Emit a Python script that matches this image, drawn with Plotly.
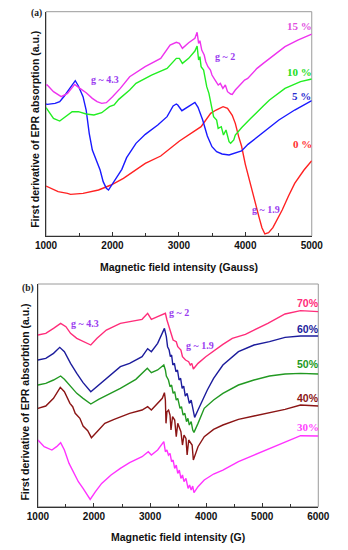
import plotly.graph_objects as go

# ---------------- Panel (a) data : field (Gauss) vs arbitrary intensity ----------------
a0_x = [1000, 1182, 1323, 1369, 1557, 1790, 1978, 2165, 2494, 2726, 3009, 3334, 3478, 3560, 3665, 3732,
        3803, 3849, 3900, 3943, 4000, 4060, 4130, 4204, 4250, 4294, 4350, 4415, 4480, 4555, 4650, 4743,
        4883, 5000]
a0_y = [150, 133, 128, 125, 128, 138, 153, 173, 218, 240, 285, 328, 368, 378, 388, 383,
        362, 338, 298, 270, 215, 165, 115, 58, 25, 6, 10, 25, 48, 78, 120, 158,
        198, 226]

a5_x = [1000, 1018, 1136, 1206, 1276, 1369, 1440, 1487, 1557, 1604, 1650, 1697, 1768, 1814, 1860, 1908,
        1940, 1987, 2048, 2141, 2213, 2354, 2494, 2682, 2822, 2913, 2961, 2983, 3045, 3127, 3241, 3288,
        3358, 3428, 3498, 3568, 3650, 3755, 3850, 3943, 4040, 4227, 4317, 4505, 4743, 5000]
a5_y = [396, 395, 398, 403, 420, 448, 466, 450, 418, 378, 308, 258, 223, 198, 163, 143,
        138, 153, 173, 200, 235, 278, 305, 333, 358, 390, 396, 393, 376, 386, 401, 386,
        348, 300, 268, 253, 246, 243, 248, 255, 275, 305, 320, 348, 378, 406]

a10_x = [1000, 1018, 1112, 1206, 1299, 1393, 1487, 1604, 1721, 1838, 1955, 2025, 2095, 2259, 2354, 2588,
         2822, 2961, 3007, 3053, 3147, 3241, 3274, 3297, 3316, 3334, 3372, 3391, 3419, 3452, 3475, 3522,
         3568, 3591, 3638, 3671, 3709, 3755, 3779, 3826, 3849, 3943, 4083, 4130, 4270, 4364, 4597, 4831,
         5000]
a10_y = [385, 380, 353, 345, 358, 373, 373, 366, 363, 370, 388, 393, 410, 438, 458, 483,
         503, 533, 533, 518, 533, 555, 570, 528, 538, 508, 498, 473, 448, 428, 403, 358,
         348, 323, 328, 303, 318, 283, 278, 288, 303, 325, 353, 363, 390, 408, 443, 463,
         471]

a15_x = [1000, 1018, 1112, 1229, 1323, 1431, 1510, 1604, 1697, 1768, 1838, 1908, 2001, 2118, 2259, 2492,
         2726, 2867, 2961, 3007, 3053, 3147, 3241, 3274, 3297, 3316, 3344, 3381, 3404, 3437, 3475, 3498,
         3545, 3592, 3624, 3662, 3699, 3732, 3779, 3803, 3849, 3989, 4036, 4176, 4270, 4597, 4790, 5000]
a15_y = [453, 453, 433, 418, 428, 455, 443, 430, 413, 403, 398, 400, 418, 443, 478, 508,
         533, 573, 581, 578, 563, 580, 593, 611, 578, 586, 558, 543, 523, 508, 498, 483,
         468, 453, 458, 443, 453, 433, 426, 425, 438, 468, 473, 503, 518, 568, 588, 606]

# ---------------- Panel (b) data ----------------
b70_x = [1000, 1140, 1278, 1405, 1499, 1582, 1693, 1805, 1943, 2054, 2220, 2470, 2635, 2857, 2957, 3023,
         3134, 3256, 3273, 3301, 3329, 3356, 3411, 3467, 3494, 3550, 3578, 3633, 3688, 3717, 3744, 3772,
         3855, 3993, 4188, 4299, 4466, 4700, 4853, 5100, 5407, 5684, 6000]
b70_y = [515, 520, 535, 550, 540, 520, 505, 495, 485, 505, 530, 550, 555, 562, 580, 562,
         570, 578, 580, 560, 545, 530, 500, 495, 480, 470, 450, 440, 435, 425, 430, 413,
         430, 450, 475, 487, 505, 517, 530, 550, 578, 588, 585]

b60_x = [1000, 1140, 1278, 1389, 1472, 1582, 1693, 1805, 1943, 2082, 2247, 2470, 2635, 2857, 2957, 3023,
         3135, 3218, 3256, 3290, 3312, 3340, 3362, 3384, 3406, 3434, 3461, 3489, 3517, 3545, 3572, 3600,
         3628, 3661, 3700, 3733, 3772, 3795, 3855, 3966, 4021, 4133, 4299, 4576, 4853, 5130, 5407, 5684,
         6000]
b60_y = [440, 445, 460, 478, 465, 430, 400, 372, 345, 365, 390, 420, 430, 450, 474, 465,
         490, 520, 535, 510, 480, 470, 450, 455, 425, 430, 405, 410, 380, 385, 355, 362,
         332, 340, 310, 320, 285, 268, 290, 330, 350, 385, 425, 465, 485, 495, 508, 512,
         512]

b50_x = [1000, 1140, 1278, 1405, 1472, 1582, 1693, 1805, 1943, 2082, 2304, 2470, 2746, 2951, 3023, 3135,
         3245, 3273, 3290, 3312, 3328, 3356, 3384, 3411, 3439, 3467, 3494, 3534, 3560, 3589, 3620, 3650,
         3675, 3700, 3733, 3761, 3783, 3855, 3966, 4133, 4299, 4576, 4853, 5130, 5407, 5684, 6000]
b50_y = [365, 370, 380, 392, 382, 360, 340, 325, 308, 322, 340, 355, 382, 415, 402, 410,
         425, 410, 392, 385, 380, 360, 365, 340, 345, 320, 325, 295, 300, 275, 280, 255,
         265, 245, 255, 230, 223, 250, 295, 320, 340, 365, 380, 392, 398, 400, 398]

b40_x = [1000, 1140, 1278, 1399, 1472, 1527, 1571, 1620, 1665, 1748, 1805, 1888, 1954, 2054, 2193, 2359,
         2635, 2857, 2957, 3023, 3135, 3218, 3256, 3273, 3284, 3301, 3330, 3356, 3373, 3401, 3439, 3467,
         3494, 3520, 3550, 3578, 3605, 3640, 3661, 3689, 3720, 3750, 3772, 3855, 3966, 4133, 4299, 4576,
         4853, 5130, 5407, 5684, 6000]
b40_y = [295, 302, 325, 358, 345, 325, 310, 300, 280, 265, 242, 228, 207, 225, 250, 262,
         280, 290, 300, 290, 310, 325, 342, 320, 250, 285, 290, 275, 230, 270, 260, 210,
         250, 240, 225, 185, 215, 205, 155, 200, 190, 185, 140, 180, 210, 232, 245, 262,
         272, 282, 292, 305, 302]

b30_x = [1000, 1111, 1249, 1333, 1405, 1472, 1555, 1638, 1721, 1805, 1888, 1932, 2026, 2137, 2304, 2470,
         2635, 2857, 2968, 3023, 3135, 3245, 3273, 3300, 3328, 3356, 3384, 3411, 3439, 3467, 3494, 3522,
         3550, 3578, 3605, 3640, 3678, 3705, 3733, 3760, 3783, 3855, 3966, 4133, 4299, 4576, 4853, 5130,
         5407, 5684, 6000]
b30_y = [200, 180, 170, 180, 192, 170, 130, 100, 75, 55, 35, 22, 45, 70, 95, 115,
         132, 150, 165, 155, 170, 195, 165, 170, 155, 160, 135, 140, 115, 125, 100, 110,
         85, 95, 75, 85, 55, 65, 50, 62, 42, 60, 80, 98, 110, 135, 155, 175,
         195, 213, 212]

ticks_a = [1000, 2000, 3000, 4000, 5000]
ticks_b = [1000, 2000, 3000, 4000, 5000, 6000]

# The page body keeps its default 8px margin, so the figure is laid out in a
# 340x542 box that starts 8px in from the window's top-left corner.
OFF = 8
W, H = 348 - OFF, 550 - OFF
def px(x): return (x - OFF) / W
def py(y): return 1 - (y - OFF) / H

XD_A = [px(37), px(322)]
YD_A = [py(236), py(11.7)]
XD_B = [px(28.3), px(329)]
YD_B = [py(506.7), py(284)]

SANS = "Liberation Sans"
SERIF = "Liberation Serif"

fig = go.Figure()
LW = 1.4
for xs, ys, c in [(a0_x, a0_y, "#ff2222"), (a5_x, a5_y, "#1a1aff"),
                  (a10_x, a10_y, "#22ee22"), (a15_x, a15_y, "#ee33ee")]:
    fig.add_trace(go.Scatter(x=xs, y=ys, mode="lines", line=dict(color=c, width=LW),
                             xaxis="x", yaxis="y", showlegend=False, hoverinfo="skip"))
for xs, ys, c in [(b70_x, b70_y, "#ff2d7a"), (b60_x, b60_y, "#1c1c9c"),
                  (b50_x, b50_y, "#229922"), (b40_x, b40_y, "#8b1515"),
                  (b30_x, b30_y, "#ff33ff")]:
    fig.add_trace(go.Scatter(x=xs, y=ys, mode="lines", line=dict(color=c, width=LW),
                             xaxis="x2", yaxis="y2", showlegend=False, hoverinfo="skip"))

tickfont = dict(family=SANS, size=10, color="#111", weight="bold")
common_x = dict(showgrid=False, zeroline=False, showline=True, linecolor="#333", linewidth=1,
                ticks="inside", ticklen=4, tickcolor="#333", tickfont=tickfont,
                minor=dict(ticks="inside", ticklen=3, dtick=500, tickcolor="#333"))
common_y = dict(showgrid=False, zeroline=False, showline=True, linecolor="#333", linewidth=1,
                showticklabels=False, ticks="")

fig.update_layout(
    width=W, height=H, margin=dict(l=0, r=0, t=0, b=0),
    paper_bgcolor="white", plot_bgcolor="white",
    xaxis=dict(domain=XD_A, range=[1000, 5000], tickvals=ticks_a, anchor="y", **common_x),
    yaxis=dict(domain=YD_A, range=[0, 673], anchor="x", **common_y),
    xaxis2=dict(domain=XD_B, range=[1000, 6000], tickvals=ticks_b, anchor="y2", **common_x),
    yaxis2=dict(domain=YD_B, range=[0, 668], anchor="x2", **common_y),
)

# grey frame (top / right sides)
for xd, yd in [(XD_A, YD_A), (XD_B, YD_B)]:
    fig.add_shape(type="rect", xref="paper", yref="paper", x0=xd[0], x1=xd[1], y0=yd[0], y1=yd[1],
                  line=dict(color="#9a9a9a", width=1), layer="below")

ann = []
def lab(text, x, y, color, xr, yr, family=SERIF, size=11):
    ann.append(dict(text=text, x=x, y=y, xref=xr, yref=yr, showarrow=False,
                    xanchor="center", yanchor="middle",
                    font=dict(family=family, size=size, color=color, weight="bold")))

G = "#9b3cf0"
lab("15 %", 4808, 630, "#e050e0", "x", "y")
lab("10 %", 4808, 493, "#22dd22", "x", "y")
lab("5 %", 4841, 420, "#2a2ad0", "x", "y")
lab("0 %", 4855, 275, "#ff3030", "x", "y")
lab("g ~ 4.3", 1884, 471, G, "x", "y", size=10)
lab("g ~ 2", 3699, 538, G, "x", "y", size=10)
lab("g ~ 1.9", 4317, 80, G, "x", "y", size=10)

lab("70%", 5822, 610, "#ff2d7a", "x2", "y2", family=SANS, size=10.5)
lab("60%", 5808, 532, "#1c1c9c", "x2", "y2", family=SANS, size=10.5)
lab("50%", 5808, 428, "#229922", "x2", "y2", family=SANS, size=10.5)
lab("40%", 5822, 325, "#8b1515", "x2", "y2", family=SANS, size=10.5)
lab("30%", 5808, 240, "#ff44ff", "x2", "y2", size=11)
lab("g ~ 4.3", 1831, 550, G, "x2", "y2", size=10)
lab("g ~ 2", 3522, 582, G, "x2", "y2", size=10)
lab("g ~ 1.9", 3883, 485, G, "x2", "y2", size=10)

lab("(a)", px(27), py(14), "#222", "paper", "paper", size=9.5)
lab("(b)", px(18), py(288), "#222", "paper", "paper", size=9.5)

TF = dict(family=SANS, size=10.5, color="#111", weight="bold")
def title(text, x, y, angle=0):
    ann.append(dict(text=text, x=px(x), y=py(y), xref="paper", yref="paper", showarrow=False,
                    xanchor="center", yanchor="middle", textangle=angle, font=TF))

title("Magnetic field intensity (Gauss)", 180, 267)
title("Magnetic field intensity (G)", 179, 537)
title("First derivative of EPR absorption (a.u.)", 25, 129, -90)
title("First derivative of EPR absorbtion (a.u.)", 14, 402, -90)

fig.update_layout(annotations=ann)
fig.write_html("out.html")
